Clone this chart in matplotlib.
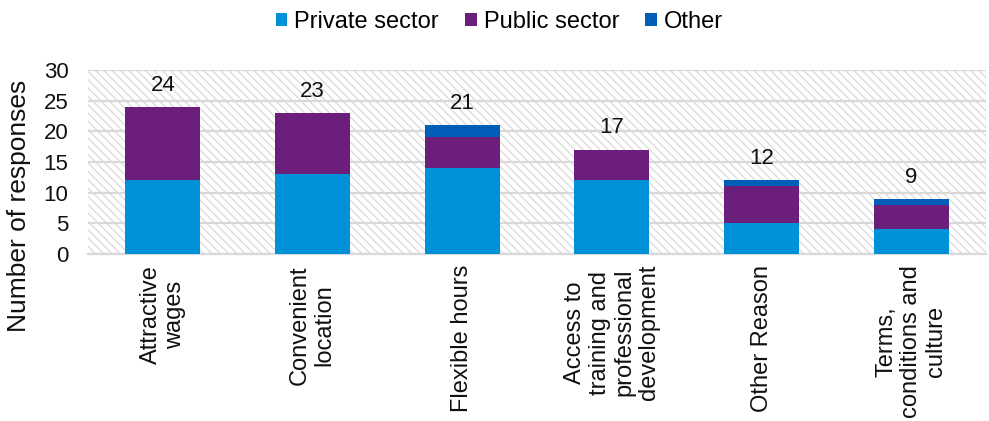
import matplotlib.pyplot as plt
import numpy as np

plt.rcParams['font.family'] = ['Liberation Sans', 'DejaVu Sans']
plt.rcParams['hatch.color'] = '#dadada'
plt.rcParams['hatch.linewidth'] = 0.9

# reasons and counts by sector
reasons = ['Attractive\nwages', 'Convenient\nlocation', 'Flexible hours',
           'Access to\ntraining and\nprofessional\ndevelopment', 'Other Reason',
           'Terms,\nconditions and\nculture']
private = [12, 13, 14, 12, 5, 4]
public = [12, 10, 5, 5, 6, 4]
other = [0, 0, 2, 0, 1, 1]

colors = {'Private sector': '#0091d9', 'Public sector': '#6c1f7a', 'Other': '#005eb8'}

fig = plt.figure(figsize=(9.89, 4.21), dpi=100)
ax = fig.add_axes([0.089, 0.397, 0.908, 0.437])

# hatched plot background
ax.patch.set_facecolor('white')
ax.patch.set_hatch('\\\\\\\\')
ax.patch.set_edgecolor('#dadada')
ax.patch.set_linewidth(0)

x = np.arange(len(reasons))
w = 0.5
p = np.array(private)
q = np.array(public)
o = np.array(other)
ax.bar(x, p, w, color=colors['Private sector'], label='Private sector', zorder=3)
ax.bar(x, q, w, bottom=p, color=colors['Public sector'], label='Public sector', zorder=3)
ax.bar(x, o, w, bottom=p + q, color=colors['Other'], label='Other', zorder=3)

totals = p + q + o
for xi, t in zip(x, totals):
    ax.annotate(str(t), (xi, t), xytext=(0, 8), textcoords='offset points',
                ha='center', va='bottom', fontsize=16, color='#111111')

ax.set_xlim(-0.5, len(reasons) - 0.5)
ax.set_ylim(0, 30)
ax.set_yticks(range(0, 31, 5))
ax.yaxis.grid(True, color='#d9d9d9', linewidth=1.6, zorder=1)
ax.set_axisbelow(True)
for s in ['top', 'right', 'left']:
    ax.spines[s].set_visible(False)
ax.spines['bottom'].set_color('#d9d9d9')
ax.spines['bottom'].set_linewidth(1.6)
ax.tick_params(axis='both', length=0, colors='#111111')
ax.tick_params(axis='y', pad=14, labelsize=16)
ax.set_xticks(x)
ax.set_xticklabels(reasons, rotation=90, ha='center', va='top', multialignment='center',
                   fontsize=17, linespacing=1.15)
ax.tick_params(axis='x', pad=8)
ax.set_ylabel('Number of responses', fontsize=19, color='#111111')
ax.yaxis.set_label_coords(-0.063, 0.26)

fig.legend(loc='upper center', bbox_to_anchor=(0.505, 1.025), ncol=3, frameon=False,
           fontsize=17, handlelength=0.5, handleheight=0.5, handletextpad=0.3,
           columnspacing=1.1)

fig.savefig('out.png', dpi=100)
